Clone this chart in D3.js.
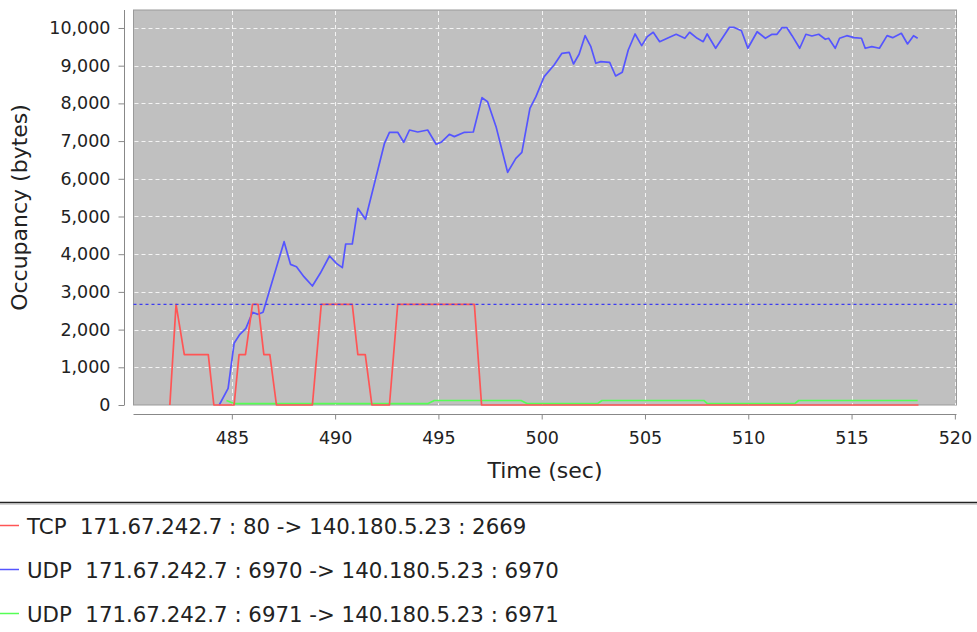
<!DOCTYPE html>
<html><head><meta charset="utf-8">
<script src="https://cdn.jsdelivr.net/npm/d3@7/dist/d3.min.js"></script>
<style>body{margin:0;background:#fff}svg{display:block}text{font-family:"DejaVu Sans",sans-serif;fill:#222}</style>
</head><body><svg id="c" width="977" height="632"></svg>
<script>
// ---- data ----
const seriesNames = [
  "TCP  171.67.242.7 : 80 -> 140.180.5.23 : 2669",
  "UDP  171.67.242.7 : 6970 -> 140.180.5.23 : 6970",
  "UDP  171.67.242.7 : 6971 -> 140.180.5.23 : 6971"
];
const seriesColors = ["#ff5555", "#5555ff", "#55ff55"];
const thresholdValue = 2670;
const xTicks = [485, 490, 495, 500, 505, 510, 515, 520];
const yTicks = [0,1000,2000,3000,4000,5000,6000,7000,8000,9000,10000];

const tcpTime = [482.0,482.3,482.7,483.86,484.13,485.11,485.35,485.66,486.0,486.27,486.55,486.84,487.16,488.9,489.33,490.83,491.1,491.46,491.78,492.63,493.03,496.74,497.09,518.24];
const tcpValue = [0,2670,1335,1335,0,0,1335,1335,2670,2670,1335,1335,0,0,2670,2670,1335,1335,0,0,2670,2670,0,0];

const udp1Time = [484.39,484.82,485.11,485.39,485.68,486.0,486.27,486.51,487.53,487.84,488.13,488.49,488.9,489.28,489.73,490.06,490.35,490.51,490.83,491.1,491.47,492.39,492.63,493.03,493.32,493.6,494.0,494.48,494.89,495.13,495.53,495.77,496.26,496.69,497.11,497.38,497.79,498.35,498.75,499.04,499.43,499.72,500.12,500.6,500.98,501.33,501.54,501.81,502.1,502.38,502.62,502.86,503.29,503.58,503.9,504.19,504.52,504.84,505.11,505.4,505.71,506.08,506.51,506.93,507.16,507.53,507.82,508.01,508.42,509.09,509.3,509.67,509.98,510.43,510.83,511.15,511.39,511.63,511.87,512.12,512.49,512.79,513.08,513.41,513.73,513.89,514.21,514.42,514.77,515.12,515.48,515.66,515.98,516.35,516.72,516.99,517.41,517.71,518.0,518.2];
const udp1Value = [0,443,1636,1875,2034,2458,2405,2458,4332,3731,3669,3404,3156,3493,3952,3758,3643,4270,4270,5217,4925,6941,7233,7233,6968,7294,7241,7294,6915,6968,7180,7118,7233,7241,8152,8045,7383,6172,6543,6702,7870,8178,8709,9019,9328,9355,9045,9302,9796,9505,9063,9107,9090,8727,8825,9416,9841,9531,9770,9886,9637,9726,9833,9726,9886,9726,9637,9841,9462,10018,10018,9928,9462,9900,9727,9833,9833,10008,10008,9796,9462,9833,9788,9833,9700,9727,9462,9727,9796,9743,9727,9462,9504,9462,9796,9743,9859,9576,9796,9727];

const udp2Time = [484.74,485.14,494.48,494.8,499.0,499.31,502.7,502.92,507.85,508.02,512.25,512.44,518.2];
const udp2Value = [120,35,35,120,120,35,35,120,120,35,35,120,120];

// ---- layout ----
const svg = d3.select("#c");
const L = 133.5, R = 956.5, T = 10, B = 405;
const x = d3.scaleLinear().domain([480.24, 520.08]).range([L, R]);
const y = d3.scaleLinear().domain([0, 10477]).range([B, T]);

svg.append("rect").attr("x", L).attr("y", T).attr("width", R - L).attr("height", B - T)
  .attr("fill", "#c0c0c0").attr("stroke", "#9a9a9a").attr("stroke-width", 1);

// grid
const grid = svg.append("g");
grid.selectAll("line.v").data(xTicks.filter(d => x(d) < R - 0.5)).enter().append("line")
  .attr("x1", d => Math.round(x(d)) + 0.5).attr("x2", d => Math.round(x(d)) + 0.5)
  .attr("y1", T + 1).attr("y2", B)
  .attr("stroke", "#f4f4f4").attr("stroke-dasharray", "4,3").attr("stroke-width", 1);
grid.selectAll("line.h").data(yTicks.filter(d => d > 0)).enter().append("line")
  .attr("y1", d => Math.round(y(d)) + 0.5).attr("y2", d => Math.round(y(d)) + 0.5)
  .attr("x1", L + 1).attr("x2", R)
  .attr("stroke", "#f4f4f4").attr("stroke-dasharray", "4,3").attr("stroke-width", 1);

// lines
const line = d3.line().x(d => x(d[0])).y(d => y(d[1]));
const zip = (a, b) => a.map((t, i) => [t, b[i]]);
const g = svg.append("g");
g.append("path").datum(zip(udp2Time, udp2Value)).attr("d", line)
  .attr("fill", "none").attr("stroke", seriesColors[2]).attr("stroke-width", 1.7).attr("stroke-linejoin", "round");
g.append("path").datum(zip(udp1Time, udp1Value)).attr("d", line)
  .attr("fill", "none").attr("stroke", seriesColors[1]).attr("stroke-width", 1.7).attr("stroke-linejoin", "round");
g.append("path").datum(zip(tcpTime, tcpValue)).attr("d", line)
  .attr("fill", "none").attr("stroke", seriesColors[0]).attr("stroke-width", 1.7).attr("stroke-linejoin", "round");

// threshold marker
svg.append("line").attr("x1", L).attr("x2", R)
  .attr("y1", y(thresholdValue)).attr("y2", y(thresholdValue))
  .attr("stroke", "#3c3cf0").attr("stroke-width", 1.2).attr("stroke-dasharray", "3,3");

// axes
const yAxis = d3.axisLeft(y).tickValues(yTicks).tickFormat(d3.format(",")).tickSize(6).tickPadding(8);
const ya = svg.append("g").attr("transform", "translate(124.5,0)").call(yAxis);
ya.select(".domain").attr("d", `M0,${T}V${B}`).attr("stroke", "#888");
ya.selectAll(".tick line").attr("stroke", "#888");
ya.selectAll(".tick text").attr("font-size", "17.5px").attr("font-family", "DejaVu Sans").attr("fill", "#222");

const xAxis = d3.axisBottom(x).tickValues(xTicks).tickFormat(d3.format("d")).tickSize(5).tickPadding(12);
const xa = svg.append("g").attr("transform", "translate(0,414.5)").call(xAxis);
xa.select(".domain").attr("d", `M${L},0H${R}`).attr("stroke", "#888");
xa.selectAll(".tick line").attr("stroke", "#888");
xa.selectAll(".tick text").attr("font-size", "17.5px").attr("font-family", "DejaVu Sans").attr("fill", "#222");

// axis labels
svg.append("text").attr("x", (L + R) / 2).attr("y", 478).attr("text-anchor", "middle")
  .attr("font-size", "22px").text("Time (sec)");
svg.append("text").attr("transform", `translate(27,${(T + B) / 2}) rotate(-90)`).attr("text-anchor", "middle")
  .attr("font-size", "22px").text("Occupancy (bytes)");

// legend
svg.append("line").attr("x1", 0).attr("x2", 977).attr("y1", 502.5).attr("y2", 502.5).attr("stroke", "#222").attr("stroke-width", 1.5);
svg.append("line").attr("x1", 0).attr("x2", 977).attr("y1", 504).attr("y2", 504).attr("stroke", "#aaa").attr("stroke-width", 1);
const rows = [526, 570, 614];
const lg = svg.append("g").selectAll("g").data(seriesNames).enter().append("g")
  .attr("transform", (d, i) => `translate(0,${rows[i]})`);
lg.append("line").attr("x1", 0).attr("x2", 19).attr("y1", -0.5).attr("y2", -0.5)
  .attr("stroke", (d, i) => seriesColors[i]).attr("stroke-width", 1.5);
lg.append("text").attr("x", 27).attr("y", 7.5).attr("font-size", "21.3px").style("white-space", "pre").text(d => d);
</script></body></html>
